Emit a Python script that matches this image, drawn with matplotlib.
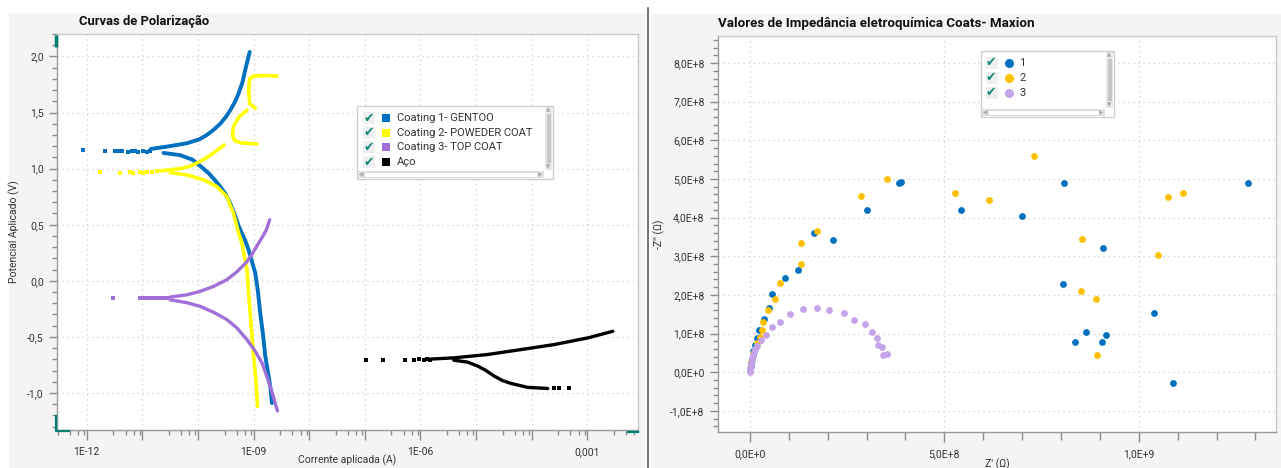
import numpy as np
import matplotlib
matplotlib.use("Agg")
import matplotlib.pyplot as plt
from matplotlib.patches import Rectangle
from matplotlib.ticker import FixedLocator, MultipleLocator, FuncFormatter, NullFormatter

plt.rcParams['font.family'] = ['Roboto', 'DejaVu Sans']

# ------------------------------------------------------------------
# data: polarization curves (log10 of current in A, potential in V)
# ------------------------------------------------------------------
c1_sparse_logi = [-12.06, -11.68, -11.49, -11.43, -11.37, -11.25, -11.19, -11.13, -11.07, -10.98, -10.92, -10.86]
c1_sparse_v    = [1.165, 1.155, 1.16, 1.155, 1.16, 1.15, 1.16, 1.155, 1.15, 1.16, 1.15, 1.155]
c1_anod_logi = [-10.85, -10.56, -10.2, -9.98, -9.84, -9.72, -9.6, -9.5, -9.42, -9.33, -9.27, -9.2, -9.15, -9.07]
c1_anod_v    = [1.175, 1.196, 1.226, 1.26, 1.30, 1.345, 1.40, 1.46, 1.52, 1.60, 1.67, 1.77, 1.88, 2.04]
c1_cath_logi = [-10.62, -10.32, -10.1, -9.95, -9.81, -9.7, -9.6, -9.5, -9.42, -9.34, -9.27, -9.16, -9.09,
                -8.97, -8.92, -8.88, -8.83, -8.79, -8.74, -8.70, -8.67]
c1_cath_v    = [1.14, 1.12, 1.08, 1.02, 0.96, 0.90, 0.84, 0.77, 0.69, 0.59, 0.49, 0.37, 0.277,
                0.07, -0.10, -0.29, -0.48, -0.67, -0.82, -0.94, -1.09]

c2_sparse_logi = [-11.76, -11.40, -11.22, -11.16, -11.04, -10.98, -10.92, -10.83, -10.74]
c2_sparse_v    = [0.97, 0.965, 0.97, 0.965, 0.97, 0.965, 0.97, 0.972, 0.975]
c2_anod_logi = [-10.68, -10.5, -10.32, -10.15, -10.02, -9.9, -9.78, -9.65, -9.53, np.nan,
                -8.94, -9.1, -9.24, -9.34, -9.38, -9.36, -9.26, -9.12, np.nan,
                -8.97, -9.07, -9.09, -9.07, -9.0, -8.76, -8.58]
c2_anod_v    = [0.98, 0.99, 1.0, 1.02, 1.05, 1.08, 1.12, 1.165, 1.21, np.nan,
                1.22, 1.225, 1.231, 1.25, 1.30, 1.38, 1.46, 1.52, np.nan,
                1.537, 1.58, 1.70, 1.80, 1.825, 1.83, 1.825]
c2_cath_logi = [-10.5, -10.2, -9.9, -9.66, -9.48, -9.36, -9.27, -9.21, -9.12, -9.09, -9.06, -9.03, -9.0, -8.95, -8.93]
c2_cath_v    = [0.965, 0.944, 0.90, 0.84, 0.75, 0.60, 0.425, 0.336, 0.10, -0.10, -0.29, -0.48, -0.67, -0.94, -1.12]

c3_sparse_logi = [-11.52, -11.04, -10.98, -10.92, -10.86, -10.80, -10.74, -10.68, -10.62, -10.56]
c3_sparse_v    = [-0.155, -0.155, -0.15, -0.155, -0.15, -0.155, -0.15, -0.155, -0.15, -0.15]
c3_anod_logi = [-10.5, -10.2, -9.96, -9.72, -9.48, -9.3, -9.12, -9.0, -8.91, -8.83, -8.77, -8.71]
c3_anod_v    = [-0.145, -0.125, -0.094, -0.05, 0.01, 0.08, 0.17, 0.26, 0.336, 0.40, 0.455, 0.545]
c3_cath_logi = [-10.5, -10.2, -9.96, -9.72, -9.48, -9.3, -9.12, -8.98, -8.85, -8.70, -8.57]
c3_cath_v    = [-0.17, -0.195, -0.228, -0.28, -0.346, -0.42, -0.524, -0.62, -0.73, -0.94, -1.16]

aco_sparse_logi = [-6.97, -6.68, -6.28, -6.12, -6.03, -5.94, -5.88, -5.82, -3.59, -3.50, -3.32]
aco_sparse_v    = [-0.702, -0.702, -0.702, -0.702, -0.70, -0.702, -0.70, -0.702, -0.96, -0.96, -0.96]
aco_anod_logi = [-5.9, -5.40, -4.79, -4.19, -3.59, -2.99, -2.54]
aco_anod_v    = [-0.70, -0.687, -0.657, -0.613, -0.568, -0.509, -0.45]
aco_cath_logi = [-5.40, -5.15, -4.97, -4.82, -4.67, -4.52, -4.37, -4.07, -3.71]
aco_cath_v    = [-0.708, -0.725, -0.76, -0.80, -0.85, -0.89, -0.915, -0.95, -0.96]

pol_labels = ["Coating 1- GENTOO", "Coating 2- POWEDER COAT", "Coating 3- TOP COAT", "Aço"]
pol_colors = ["#0070C0", "#FFFF00", "#A070D8", "#000000"]

x_major_exp = list(range(-12, -2))
x_tick_labels = {-12: "1E-12", -9: "1E-09", -6: "1E-06", -3: "0,001"}

# ------------------------------------------------------------------
# data: impedance (Nyquist), values in units of 1E8 ohm
# ------------------------------------------------------------------
z1_re = [0.01, 0.02, 0.03, 0.05, 0.07, 0.09, 0.13, 0.19, 0.23, 0.37, 0.48, 0.574, 0.89, 1.24, 1.65, 2.14,
         3.0, 3.83, 3.89, 5.43, 7.0, 8.09, 8.04, 9.08, 8.65, 9.16, 8.35, 9.05, 10.39, 10.88, 12.8]
z1_im = [0.05, 0.15, 0.25, 0.35, 0.45, 0.55, 0.71, 0.88, 1.08, 1.38, 1.65, 2.02, 2.43, 2.65, 3.6, 3.42,
         4.2, 4.9, 4.92, 4.2, 4.05, 4.9, 2.28, 3.22, 1.04, 0.96, 0.77, 0.77, 1.53, -0.29, 4.9]
z2_re = [0.01, 0.03, 0.08, 0.17, 0.25, 0.31, 0.33, 0.46, 0.635, 0.76, 1.30, 1.30, 1.72, 2.85, 3.53,
         5.27, 6.14, 7.31, 8.54, 8.52, 8.91, 8.92, 10.49, 10.75, 11.14]
z2_im = [0.1, 0.3, 0.5, 0.75, 0.9, 1.09, 1.31, 1.61, 1.89, 2.30, 2.79, 3.34, 3.65, 4.57, 5.01,
         4.65, 4.46, 5.60, 3.44, 2.09, 1.89, 0.44, 3.02, 4.54, 4.63]
z3_re = [0.0, 0.005, 0.01, 0.02, 0.03, 0.045, 0.06, 0.08, 0.1, 0.13, 0.19, 0.275, 0.40, 0.57, 0.76,
         1.04, 1.36, 1.72, 2.03, 2.42, 2.68, 2.95, 3.14, 3.27, 3.30, 3.40, 3.43, 3.52]
z3_im = [0.0, 0.05, 0.1, 0.17, 0.24, 0.31, 0.38, 0.45, 0.52, 0.6, 0.68, 0.83, 0.97, 1.16, 1.31,
         1.50, 1.63, 1.65, 1.60, 1.53, 1.36, 1.24, 1.03, 0.88, 0.71, 0.64, 0.44, 0.47]
imp_labels = ["1", "2", "3"]
imp_colors = ["#0070C0", "#FFC000", "#C4A3E8"]

# ------------------------------------------------------------------
# figure layout (pixel based)
# ------------------------------------------------------------------
W, H = 1281, 468
fig = plt.figure(figsize=(W / 100, H / 100), dpi=100)
fig.patch.set_facecolor("white")

def frac(x0, y0, x1, y1):
    return [x0 / W, 1 - y1 / H, (x1 - x0) / W, (y1 - y0) / H]

bg = fig.add_axes([0, 0, 1, 1], zorder=-5)
bg.set_xlim(0, W); bg.set_ylim(H, 0); bg.axis("off")
bg.add_patch(Rectangle((9, 13), 636, 455, color="#f4f4f4", lw=0))
bg.add_patch(Rectangle((651, 14), 630, 454, color="#f4f4f4", lw=0))
bg.plot([648, 648], [8, 468], color="#5a5a5a", lw=1.2)

GRID = dict(color="#cfcfcf", linestyle=(0, (1, 3)), linewidth=0.9)
TXT = "#333333"

def style_axes(ax):
    for s in ax.spines.values():
        s.set_color("#c8c8c8")
        s.set_linewidth(1.0)
    ax.spines["left"].set_color("#9a9a9a")
    ax.spines["bottom"].set_color("#9a9a9a")
    ax.tick_params(which="major", length=6, width=1.0, color="#8a8a8a", labelsize=7.5, labelcolor=TXT)
    ax.tick_params(which="minor", length=3.5, width=1.0, color="#8a8a8a")
    ax.tick_params(axis="x", which="major", length=7, pad=5.5)
    ax.tick_params(top=False, right=False)

# ---------------- left: polarization curves ----------------
ax1 = fig.add_axes(frac(57, 34, 638, 430))
style_axes(ax1)
ax1.set_xscale("log")

def p(logi):
    return 10.0 ** np.asarray(logi, dtype=float)

series = [
    (c1_sparse_logi, c1_sparse_v, c1_anod_logi, c1_anod_v, c1_cath_logi, c1_cath_v),
    (c2_sparse_logi, c2_sparse_v, c2_anod_logi, c2_anod_v, c2_cath_logi, c2_cath_v),
    (c3_sparse_logi, c3_sparse_v, c3_anod_logi, c3_anod_v, c3_cath_logi, c3_cath_v),
    (aco_sparse_logi, aco_sparse_v, aco_anod_logi, aco_anod_v, aco_cath_logi, aco_cath_v),
]
lws = [2.8, 2.6, 2.4, 2.4]
for (sl, sv, al, av, cl, cv), col, lw in zip(series, pol_colors, lws):
    ax1.plot(p(sl), sv, "s", ms=2.4, color=col, mew=0)
    ax1.plot(p(al), av, "-", lw=lw, color=col, solid_capstyle="round")
    ax1.plot(p(cl), cv, "-", lw=lw, color=col, solid_capstyle="round")

ax1.set_xlim(10 ** -12.535, 10 ** -2.087)
ax1.set_ylim(-1.33, 2.2)
ax1.set_xticks([10.0 ** e for e in x_major_exp])
ax1.set_xticklabels([x_tick_labels.get(e, "") for e in x_major_exp])
ax1.xaxis.set_minor_locator(FixedLocator([s * 10.0 ** e for e in range(-13, -2) for s in (3, 5, 7, 9)]))
ax1.xaxis.set_minor_formatter(NullFormatter())
ax1.yaxis.set_major_locator(MultipleLocator(0.5))
ax1.yaxis.set_minor_locator(MultipleLocator(0.1))
ax1.yaxis.set_major_formatter(FuncFormatter(lambda v, _: f"{v:.1f}".replace(".", ",")))
ax1.grid(True, which="major", **GRID)
ax1.set_axisbelow(True)
ax1.set_xlabel("Corrente aplicada (A)", fontsize=7.5, color=TXT)
ax1.xaxis.set_label_coords(0.5, -0.063)
ax1.set_ylabel("Potencial Aplicado (V)", fontsize=7.5, color=TXT, labelpad=5)

# ---------------- right: impedance ----------------
ax2 = fig.add_axes(frac(717.7, 36, 1276, 431.7))
style_axes(ax2)
for re_, im_, col in zip([z1_re, z2_re, z3_re], [z1_im, z2_im, z3_im], imp_colors):
    ax2.scatter(np.array(re_) * 1e8, np.array(im_) * 1e8, s=24, color=col, linewidths=0, zorder=3)

def sci_fmt(v, _):
    if abs(v) < 1:
        return "0,0E+0"
    e = int(np.floor(np.log10(abs(v)) + 1e-9))
    m = v / 10 ** e
    return f"{m:.1f}".replace(".", ",") + f"E+{e}"

ax2.set_xlim(-0.83e8, 1.353e9)
ax2.set_ylim(-1.54e8, 8.7e8)
ax2.xaxis.set_major_locator(MultipleLocator(5e8))
ax2.xaxis.set_minor_locator(MultipleLocator(1e8))
ax2.yaxis.set_major_locator(MultipleLocator(1e8))
ax2.yaxis.set_minor_locator(MultipleLocator(0.2e8))
ax2.xaxis.set_major_formatter(FuncFormatter(sci_fmt))
ax2.yaxis.set_major_formatter(FuncFormatter(sci_fmt))
ax2.tick_params(axis="x", which="minor", length=6)
ax2.grid(True, which="major", **GRID)
ax2.set_axisbelow(True)
ax2.set_xlabel("Z' (\u03a9)", fontsize=7.5, color=TXT)
ax2.xaxis.set_label_coords(0.5, -0.068)
ax2.set_ylabel("-Z'' (\u03a9)", fontsize=7.5, color=TXT, labelpad=4)

# ---------------- overlay: titles, legends, markers ----------------
ov = fig.add_axes([0, 0, 1, 1], zorder=10)
ov.set_xlim(0, W); ov.set_ylim(H, 0); ov.axis("off")
ov.patch.set_alpha(0)

ov.text(79, 21, "Curvas de Polarização", fontsize=9.4, fontweight="bold", color="#111111", va="center")
ov.text(718, 24, "Valores de Impedância eletroquímica Coats- Maxion", fontsize=9.6,
        fontweight="bold", color="#111111", va="center")

TEAL = "#00806e"
ov.plot([56, 56], [35, 47], color=TEAL, lw=2.5, solid_capstyle="butt")
ov.plot([56, 56, 69], [416, 431, 431], color=TEAL, lw=1.6)
ov.plot([628, 638], [431.5, 431.5], color=TEAL, lw=1.6)

def legend_box(x0, y0, x1, y1, rows, colors, labels, marker, xc, xm, xt):
    ov.add_patch(Rectangle((x0, y0), x1 - x0, y1 - y0, facecolor="white", edgecolor="#cfcfcf", lw=1.0))
    # vertical scrollbar
    ov.add_patch(Rectangle((x1 - 8, y0 + 1), 7, y1 - y0 - 10, facecolor="#e8e8e8", lw=0))
    ov.add_patch(Rectangle((x1 - 6.5, y0 + 8), 4, y1 - y0 - 24, facecolor="#c6c6c6", lw=0))
    ov.text(x1 - 4.5, y0 + 4, "\u25b2", fontsize=4, color="#a8a8a8", ha="center", va="center", family="DejaVu Sans")
    ov.text(x1 - 4.5, y1 - 12.5, "\u25bc", fontsize=4, color="#a8a8a8", ha="center", va="center", family="DejaVu Sans")
    # horizontal scrollbar
    ov.add_patch(Rectangle((x0 + 1, y1 - 8), x1 - x0 - 10, 7, facecolor="#e0e0e0", lw=0))
    ov.add_patch(Rectangle((x0 + 7, y1 - 7), x1 - x0 - 22, 5, facecolor="white", edgecolor="#d6d6d6", lw=0.6))
    ov.text(x0 + 4, y1 - 4.5, "\u25c0", fontsize=4, color="#a8a8a8", ha="center", va="center", family="DejaVu Sans")
    ov.text(x1 - 13, y1 - 4.5, "\u25b6", fontsize=4, color="#a8a8a8", ha="center", va="center", family="DejaVu Sans")
    for y, col, lab in zip(rows, colors, labels):
        ov.add_patch(Rectangle((xc - 5.5, y - 6), 12, 12, facecolor="#efefef", lw=0))
        ov.text(xc, y, "\u2714", fontsize=9, color="#15897a", ha="center", va="center", family="DejaVu Sans")
        if marker == "s":
            ov.add_patch(Rectangle((xm - 4, y - 4), 8, 8, facecolor=col, lw=0))
        else:
            ov.plot([xm], [y], "o", ms=6.5, color=col, mew=0)
        ov.text(xt, y, lab, fontsize=8, color=TXT, va="center")

legend_box(357, 106, 553, 179, [118.3, 132.7, 147.3, 162.3], pol_colors, pol_labels, "s", 368.5, 385.7, 397)
legend_box(981, 51, 1114, 117, [62.7, 77.7, 92.7], imp_colors, imp_labels, "o", 991, 1009, 1019)

fig.savefig("out.png", dpi=100, facecolor="white")
